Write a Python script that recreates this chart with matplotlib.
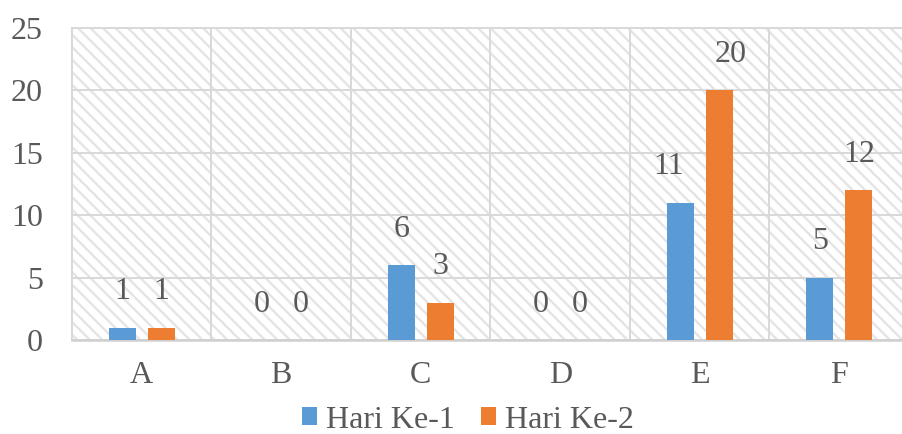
import matplotlib
matplotlib.use("Agg")
import matplotlib.pyplot as plt
from matplotlib.patches import Rectangle
import numpy as np

categories = ["A", "B", "C", "D", "E", "F"]
series_names = ["Hari Ke-1", "Hari Ke-2"]
hari1 = [1, 0, 6, 0, 11, 5]
hari2 = [1, 0, 3, 0, 20, 12]
yticks = [0, 5, 10, 15, 20, 25]

# horizontal nudges of value labels (pixels) as in the reference
label_dx1 = [0, 0, 0, 0, -12, 0]
label_dx2 = [0, 0, 0, 0, 11, 0]

colors = ["#5B9BD5", "#ED7D31"]
text_color = "#595959"
grid_color = "#d9d9d9"

DPI = 75
plt.rcParams["font.family"] = ["Liberation Serif", "DejaVu Serif"]
plt.rcParams["hatch.linewidth"] = 2.2
px = 72.0 / DPI  # points per pixel

fig = plt.figure(figsize=(903 / DPI, 434 / DPI), dpi=DPI)
W, H = 903, 434
left, right, top, bottom = 72, 909, 28, 340
ax = fig.add_axes([left / W, 1 - bottom / H, (right - left) / W, (bottom - top) / H])

ax.set_facecolor("white")
bg = Rectangle((0, 0), 1, 1, transform=ax.transAxes, facecolor="white",
               edgecolor="#e4e4e4", hatch="\\\\", linewidth=0, zorder=0)
ax.add_patch(bg)

x = np.arange(len(categories))
bw = 0.194
off = 0.14
b1 = ax.bar(x - off, hari1, bw, color=colors[0], zorder=3, label=series_names[0])
b2 = ax.bar(x + off, hari2, bw, color=colors[1], zorder=3, label=series_names[1])

fs = 32 * px
for bars, vals, dxs in ((b1, hari1, label_dx1), (b2, hari2, label_dx2)):
    for rect, v, dx in zip(bars, vals, dxs):
        ax.annotate(str(v), (rect.get_x() + rect.get_width() / 2, v),
                    xytext=(dx * px, 36 * px), textcoords="offset points",
                    ha="center", va="center", fontsize=fs, color=text_color, zorder=4)

ax.set_xlim(-0.5, len(categories) - 0.5)
ax.set_ylim(0, 25)
ax.set_yticks(yticks)
ax.set_xticks(x)
ax.set_xticklabels(categories)
ax.set_xticks(np.arange(-0.5, len(categories), 1), minor=True)
ax.tick_params(axis="both", which="both", length=0, labelsize=fs, colors=text_color)
ax.tick_params(axis="y", pad=29 * px)
ax.tick_params(axis="x", pad=21 * px)

ax.grid(True, axis="y", which="major", color=grid_color, linewidth=2 * px, zorder=1)
ax.grid(True, axis="x", which="minor", color=grid_color, linewidth=2 * px, zorder=1)
ax.grid(False, axis="x", which="major")
ax.set_axisbelow(True)
for s in ["left", "top", "bottom", "right"]:
    ax.spines[s].set_color(grid_color)
    ax.spines[s].set_linewidth(2 * px)
ax.spines["bottom"].set_color("#d0d0d0")
ax.spines["bottom"].set_linewidth(2.5 * px)

leg = fig.legend(handles=[b1, b2], labels=series_names, loc="center",
                 bbox_to_anchor=(468 / W, 1 - 420 / H), ncol=2, frameon=False,
                 fontsize=fs, handlelength=0.47, handleheight=0.5,
                 handletextpad=0.3, columnspacing=0.8, borderpad=0)
for t in leg.get_texts():
    t.set_color(text_color)

fig.savefig("out.png", dpi=DPI)
